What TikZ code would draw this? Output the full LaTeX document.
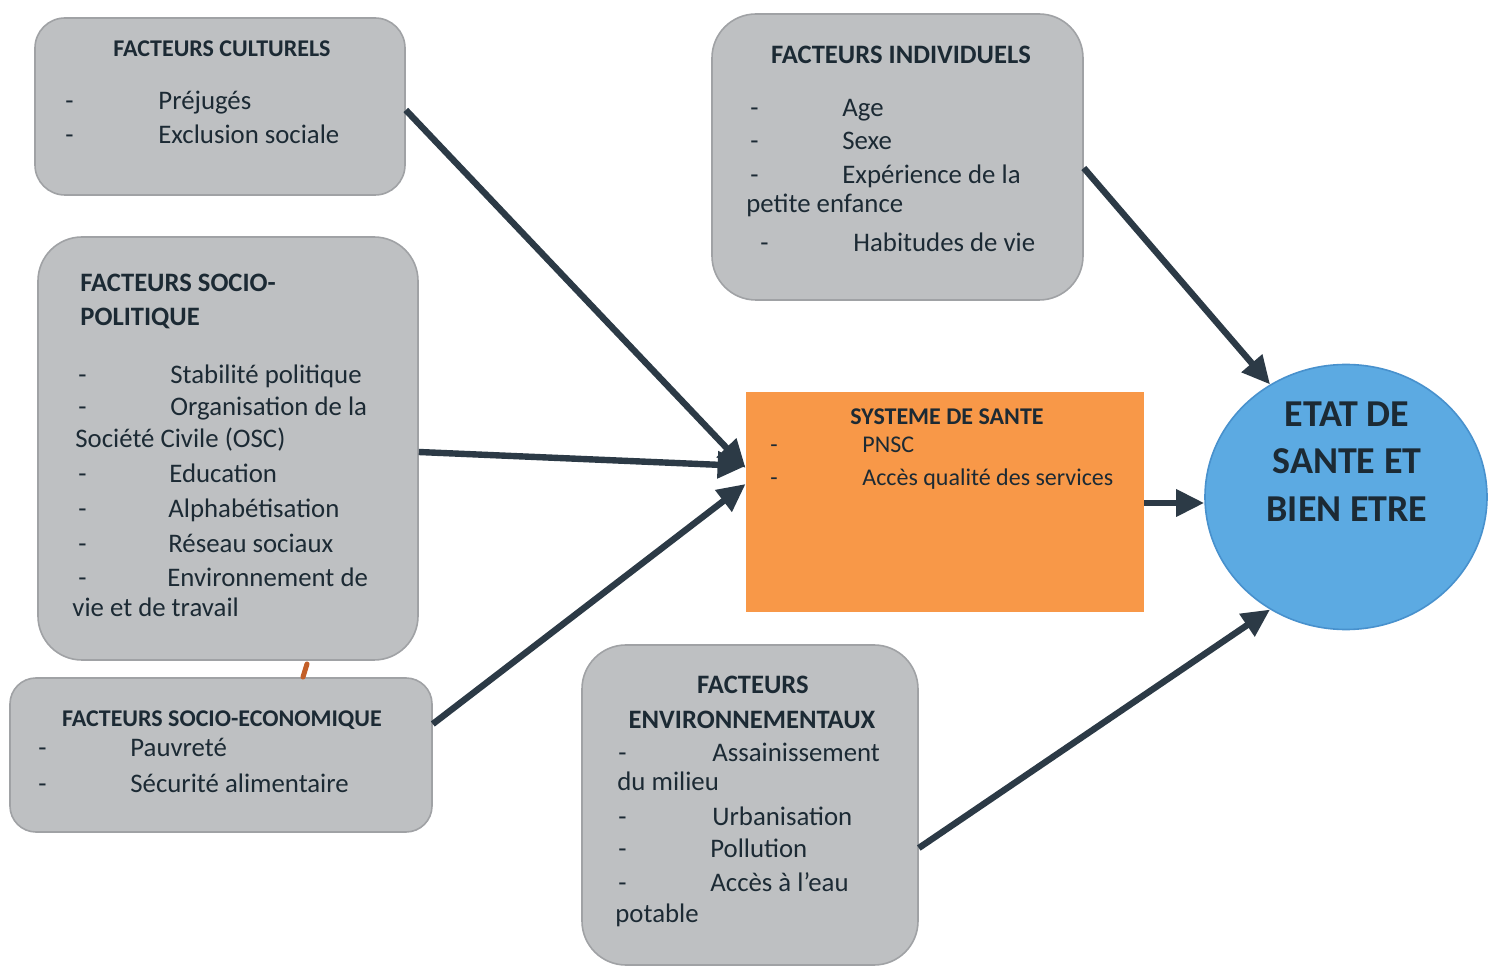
\documentclass[tikz,border=0pt]{standalone}
\usepackage{fontspec}
\setmainfont{Carlito}
\usetikzlibrary{arrows.meta,shapes.geometric}
\definecolor{boxgray}{RGB}{190,192,194}
\definecolor{boxedge}{RGB}{160,162,165}
\definecolor{ink}{RGB}{28,42,52}
\definecolor{arrowc}{RGB}{44,58,70}
\definecolor{sysorange}{RGB}{248,152,72}
\definecolor{etatblue}{RGB}{92,170,226}
\definecolor{etatedge}{RGB}{72,145,205}
\definecolor{markc}{RGB}{195,95,40}
\newcommand\bodyf{\fontsize{13.4}{17}\selectfont}
\newcommand\smallbodyf{\fontsize{12}{16}\selectfont}
\begin{document}
\begin{tikzpicture}[x=0.5pt,y=-0.5pt,
  factor/.style={draw=boxedge,fill=boxgray,line width=0.8pt,inner sep=0pt},
  sysbox/.style={fill=sysorange,draw=none,inner sep=0pt},
  etatnode/.style={ellipse,fill=etatblue,draw=etatedge,line width=0.8pt,inner sep=0pt},
  t/.style={anchor=base west,inner sep=0pt,text=ink,font=\bodyf},
  ts/.style={anchor=base west,inner sep=0pt,text=ink,font=\smallbodyf},
  ttl/.style={anchor=base,inner sep=0pt,text=ink,font=\fontsize{12}{14}\selectfont\bfseries},
  ttlb/.style={anchor=base,inner sep=0pt,text=ink,font=\fontsize{13.3}{16}\selectfont\bfseries},
  ttlw/.style={anchor=base west,inner sep=0pt,text=ink,font=\fontsize{13.3}{16}\selectfont\bfseries},
  etattxt/.style={anchor=base,inner sep=0pt,text=ink,font=\fontsize{19}{23}\selectfont\bfseries},
  conn/.style={draw=arrowc,line width=3.2pt,-{Triangle[length=14pt,width=13pt]}}]
\useasboundingbox[fill=white] (0,0) rectangle (1495,967);

% boxes
\node[factor,rounded corners=15pt,minimum width=185pt,minimum height=88.5pt] (cult) at (220,106.5) {};
\node[factor,rounded corners=22pt,minimum width=190pt,minimum height=211.5pt] (pol) at (228,448.5) {};
\node[factor,rounded corners=13pt,minimum width=211pt,minimum height=77pt] (eco) at (221,755) {};
\node[factor,rounded corners=22pt,minimum width=185.5pt,minimum height=143pt] (ind) at (897.5,157) {};
\node[factor,rounded corners=22pt,minimum width=168pt,minimum height=160pt] (env) at (750,805) {};
\node[sysbox,minimum width=199pt,minimum height=110pt] (sys) at (945,502) {};
\node[etatnode,minimum width=141pt,minimum height=132.5pt] (etat) at (1346,497) {};

% culturels
\node[ttl] (cultT) at (222,57) {FACTEURS CULTURELS};
\node[t] (cd1) at (65,110) {-};
\node[t] (ci1) at (158,110) {Préjugés};
\node[t] (cd2) at (65,144) {-};
\node[t] (ci2) at (158,144) {Exclusion sociale};

% socio-politique
\node[ttlw] (polT1) at (80,292) {FACTEURS SOCIO-};
\node[ttlw] (polT2) at (80,326) {POLITIQUE};
\node[t] (pd1) at (78,384) {-};
\node[t] (pi1) at (170,384) {Stabilité politique};
\node[t] (pd2) at (78,416) {-};
\node[t] (pi2) at (170,416) {Organisation de la};
\node[t] (pi2b) at (75,448) {Société Civile (OSC)};
\node[t] (pd3) at (78,483) {-};
\node[t] (pi3) at (169,483) {Education};
\node[t] (pd4) at (78,518) {-};
\node[t] (pi4) at (168,518) {Alphabétisation};
\node[t] (pd5) at (78,553) {-};
\node[t] (pi5) at (168,553) {Réseau sociaux};
\node[t] (pd6) at (78,587) {-};
\node[t] (pi6) at (167,587) {Environnement de};
\node[t] (pi6b) at (72,617) {vie et de travail};

% socio-economique
\node[ttl] (ecoT) at (222,727) {FACTEURS SOCIO-ECONOMIQUE};
\node[t] (ed1) at (38,757) {-};
\node[t] (ei1) at (130,757) {Pauvreté};
\node[t] (ed2) at (38,792) {-};
\node[t] (ei2) at (130,792) {Sécurité alimentaire};

% individuels
\node[ttlb] (indT) at (901,64) {FACTEURS INDIVIDUELS};
\node[t] (id1) at (750,117) {-};
\node[t] (ii1) at (842,117) {Age};
\node[t] (id2) at (750,150) {-};
\node[t] (ii2) at (842,150) {Sexe};
\node[t] (id3) at (750,184) {-};
\node[t] (ii3) at (842,184) {Expérience de la};
\node[t] (ii3b) at (746,213) {petite enfance};
\node[t] (id4) at (760,252) {-};
\node[t] (ii4) at (853,252) {Habitudes de vie};

% environnementaux
\node[ttlb] (envT1) at (753,694) {FACTEURS};
\node[ttlb] (envT2) at (752,729) {ENVIRONNEMENTAUX};
\node[t] (nd1) at (618,762) {-};
\node[t] (ni1) at (712,762) {Assainissement};
\node[t] (ni1b) at (617,791) {du milieu};
\node[t] (nd2) at (618,826) {-};
\node[t] (ni2) at (712,826) {Urbanisation};
\node[t] (nd3) at (618,857) {-};
\node[t] (ni3) at (710,857) {Pollution};
\node[t] (nd4) at (618,892) {-};
\node[t] (ni4) at (710,892) {Accès à l’eau};
\node[t] (ni4b) at (615,922) {potable};

% systeme de sante
\node[ttl] (sysT) at (947,425) {SYSTEME DE SANTE};
\node[ts] (sd1) at (770,453) {-};
\node[ts] (si1) at (862,453) {PNSC};
\node[ts] (sd2) at (770,486) {-};
\node[ts] (si2) at (862,486) {Accès qualité des services};

% etat
\node[etattxt] (et1) at (1347,427) {ETAT DE};
\node[etattxt] (et2) at (1347,474) {SANTE ET};
\node[etattxt] (et3) at (1347,522) {BIEN ETRE};

% connectors
\draw[conn] (cult.east |- 0,110) -- (sys.west |- 0,468);
\draw[conn] (pol.east |- 0,452) -- (sys.west |- 0,466);
\draw[conn] (eco.east |- 0,724) -- (sys.west |- 0,484);
\draw[conn] (ind.east |- 0,168) -- (etat.124);
\draw[conn] (sys.east |- 0,503) -- (etat.west |- 0,503);
\draw[conn] (env.east |- 0,848) -- (etat.-124);

% small mark
\draw[markc,line width=2.5pt,line cap=round] (303,677) -- (307,664);
\end{tikzpicture}
\end{document}
